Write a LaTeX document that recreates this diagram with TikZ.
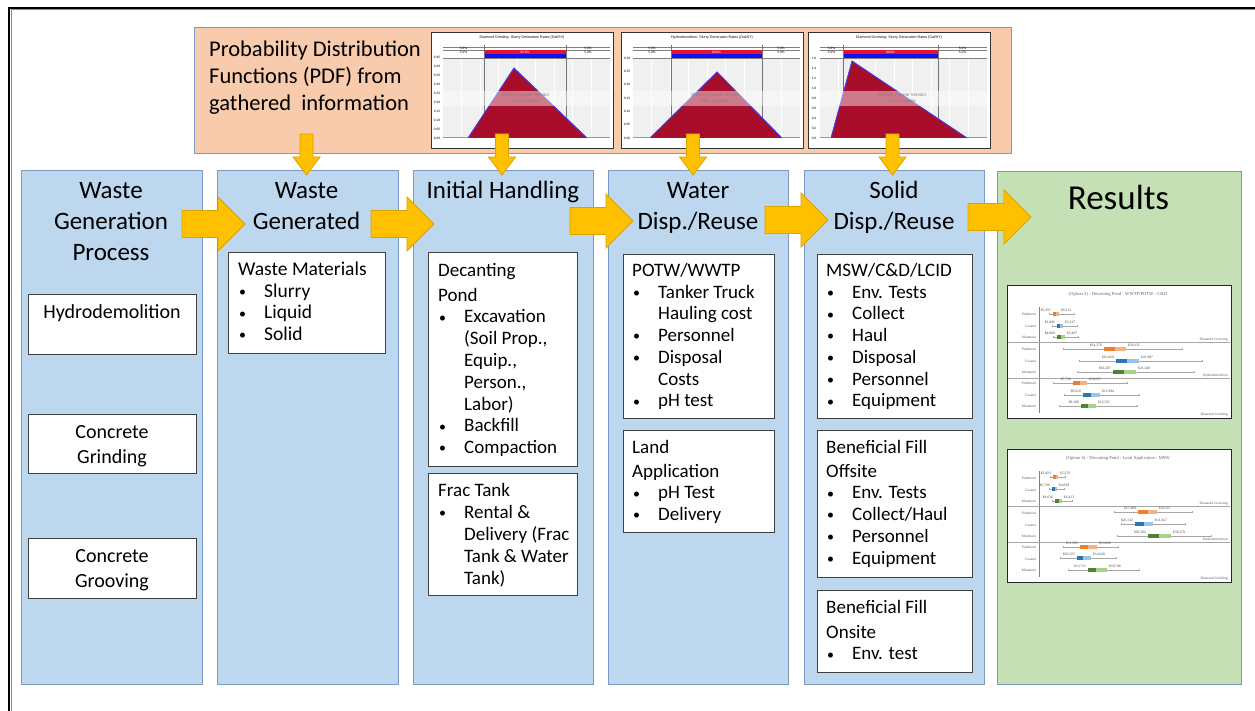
\documentclass[tikz,border=0pt]{standalone}
\usepackage{fontspec}
\setmainfont{Carlito}
\newfontfamily\cfont{Liberation Serif}
\newfontfamily\pfont{Liberation Sans}
\definecolor{colblue}{HTML}{BDD7EE}
\definecolor{colgreen}{HTML}{C5E0B4}
\definecolor{pdforange}{HTML}{F8CBAD}
\definecolor{edgeblue}{HTML}{7A9AC4}
\definecolor{ygold}{HTML}{FFC000}
\definecolor{ygoldedge}{HTML}{D9A400}
\definecolor{boxedge}{HTML}{404040}
\definecolor{trired}{HTML}{A80E2A}
\definecolor{triblue}{HTML}{3C3CF0}
\definecolor{barred}{HTML}{E8102E}
\definecolor{barblue}{HTML}{1010F0}
\definecolor{ord}{HTML}{ED7D31}\definecolor{orl}{HTML}{F4B183}
\definecolor{bld}{HTML}{2E75B6}\definecolor{bll}{HTML}{9DC3E6}
\definecolor{grd}{HTML}{548235}\definecolor{grl}{HTML}{A9D18E}
\newcommand\bitem{\makebox[26pt][l]{\hspace*{1pt}{\fontsize{14}{14}\selectfont\raisebox{0.8pt}{\textbullet}}}}
\newcommand\bcont{\hspace*{26pt}}
\tikzset{
 colbox/.style={draw=edgeblue, fill=colblue, line width=1, anchor=north west, inner sep=0},
 wbox/.style={draw=boxedge, fill=white, line width=1, anchor=north west, inner sep=0},
 ttl/.style={anchor=north, inner sep=0, font=\fontsize{25}{31}\selectfont},
 lst/.style={anchor=north west, inner sep=0, font=\fontsize{19}{21.8}\selectfont},
 yarr/.style={fill=ygold, draw=ygoldedge, line width=0.8, line join=miter},
 ptiny/.style={inner sep=0, font=\pfont\fontsize{3.2}{3.6}\selectfont},
 rlab/.style={inner sep=0, font=\cfont\fontsize{3.6}{4}\selectfont, text=black!65},
 vlab/.style={inner sep=0, font=\cfont\fontsize{3.6}{4}\selectfont, text=black!75},
}
% right block arrow: start x, centre y
\newcommand\rarr[2]{\draw[yarr] (#1,#2-13.5) -- (#1+36,#2-13.5) -- (#1+36,#2-27) -- (#1+63,#2) -- (#1+36,#2+27) -- (#1+36,#2+13.5) -- (#1,#2+13.5) -- cycle;}
% down block arrow: centre x
\newcommand\darr[1]{\draw[yarr] (#1-6.5,134) -- (#1+6.5,134) -- (#1+6.5,157) -- (#1+13.5,157) -- (#1,175) -- (#1-13.5,157) -- (#1-6.5,157) -- cycle;}
% PDF chart
\newcommand\pdfchart[9]{%
 \node[draw=black!80, line width=1.2, fill=white, minimum width=182, minimum height=116, anchor=north west, inner sep=0] (#9) at (#1,32) {};
 \fill[black!6] (#1+12,58) rectangle (#1+179,138);
 \foreach \gx in {1,...,8} \draw[white, line width=0.6] (#1+12+\gx*18.5,58) -- (#1+12+\gx*18.5,138);
 \draw[black!50, line width=0.5] (#1+12,47) -- (#1+179,47) (#1+12,50) -- (#1+179,50) (#1+12,58) -- (#1+179,58);
 \fill[barred] (#7,50) rectangle (#8,54);
 \fill[barblue] (#7,54) rectangle (#8,58);
 \draw[black!55, line width=0.9] (#7,45) -- (#7,138) (#8,45) -- (#8,138);
 \fill[trired] (#3,138) -- (#4,#5) -- (#6,138) -- cycle;
 \draw[triblue, line width=0.9] (#3,138) -- (#4,#5) -- (#6,138);
 \draw[blue!45, line width=1] (#1+12,138) -- (#3,138) (#6,138) -- (#1+179,138);
 \fill[white, opacity=0.45] (#1+12,91) rectangle (#1+179,106);
 \node[ptiny, font=\pfont\fontsize{4.6}{5}\selectfont, text=black!50] (#9w1) at (#1+94,95.5) {@RISK Course Version};
 \node[ptiny, font=\pfont\fontsize{4.2}{5}\selectfont, text=black!50] (#9w2) at (#1+94,101.5) {UNC Charlotte};
 \node[ptiny, font=\pfont\fontsize{3.6}{4}\selectfont] (#9t) at (#1+91,37.5) {#2};
 \node[ptiny, text=white] (#9p) at ({(#7+#8)/2},52) {90.0\%};
 \node[ptiny] (#9l1) at ({(#1+12+#7)/2},48.7) {5.0\%};
 \node[ptiny] (#9l2) at ({(#1+12+#7)/2},52.5) {5.0\%};
 \node[ptiny] (#9r1) at ({(#1+179+#8)/2},48.7) {5.0\%};
 \node[ptiny] (#9r2) at ({(#1+179+#8)/2},52.5) {5.0\%};
}
% result chart
\newcommand\reschart[3]{%
 \node[draw=black!85, line width=1.2, fill=white, minimum width=224, minimum height=133, anchor=north west, inner sep=0] (#3) at (1007,#1) {};
 \node[inner sep=0, font=\cfont\fontsize{4.6}{5}\selectfont, text=black!60] (#3t) at (1118,#1+9) {#2};
 \draw[black!50, line width=0.6] (1039,#1+22) -- (1039,#1+128);
 \draw[black!35, line width=0.8] (1008,#1+57) -- (1230,#1+57) (1008,#1+93) -- (1230,#1+93);
 \foreach \ry/\rl in {29/Piedmont,41/Coastal,52/Mountain,64/Piedmont,76/Coastal,87/Mountain,98/Piedmont,110/Coastal,121/Mountain}
   \node[rlab, anchor=east] at (1036,#1+\ry) {\rl};
 \node[rlab, anchor=south east] (#3g1) at (1228,#1+56.5) {Diamond Grooving};
 \node[rlab, anchor=south east] (#3g2) at (1228,#1+92.5) {Hydrodemolition};
 \node[rlab, anchor=south east] (#3g3) at (1228,#1+131) {Diamond Grinding};
}
\newcommand\brow[9]{%
 \draw[black!35, line width=0.5] (#2,#1) -- (#3,#1) (#2,#1-1.2) -- (#2,#1+1.2) (#3,#1-1.2) -- (#3,#1+1.2);
 \fill[#7d] (#4,#1-2.2) rectangle (#5,#1+2.2);
 \fill[#7l] (#5,#1-2.2) rectangle (#6,#1+2.2);
 \node[vlab, anchor=south east] at (#4-2,#1-2) {#8};
 \node[vlab, anchor=south west] at (#6+2,#1-2) {#9};
}
\begin{document}
\begin{tikzpicture}[x=1pt, y=-1pt]
\useasboundingbox (0,0) rectangle (1255,711);
\fill[white] (0,0) rectangle (1255,711);
% outer frame
\draw[black, line width=2.2] (9,711) -- (9,7.8) -- (1255,7.8);
\draw[black!45, line width=1] (11.2,711) -- (11.2,10) -- (1255,10);

% PDF box
\node[draw=edgeblue, fill=pdforange, line width=1, anchor=north west, inner sep=0, minimum width=817, minimum height=126] (pdf) at (194,27) {};
\node[anchor=north west, inner sep=0, font=\fontsize{22.5}{27.3}\selectfont] (pdftxt) at (209,56-19.1)
 {\begin{tabular}{@{}l@{}}Probability Distribution\\Functions (PDF) from\\gathered\ \ information\end{tabular}};

\pdfchart{431}{Diamond Grinding: Slurry Generation Rates (Gal/SY)}{468}{514}{68}{587}{484}{566}{chA}
\pdfchart{621}{Hydrodemolition: Slurry Generation Rates (Gal/SY)}{650}{717}{72}{782}{671}{762}{chB}
\pdfchart{808}{Diamond Grooving: Slurry Generation Rates (Gal/SY)}{831}{852}{61}{967}{843}{938}{chC}
\foreach \tv [count=\i from 0] in {0.00,0.05,0.10,0.15,0.20,0.25,0.30,0.35,0.40,0.45}
  \node[ptiny] at (437,138-\i*8.9) {\tv};
\foreach \tv [count=\i from 0] in {0.00,0.05,0.10,0.15,0.20,0.25,0.30}
  \node[ptiny] at (627,138-\i*13.3) {\tv};
\foreach \tv [count=\i from 0] in {0.0,0.2,0.4,0.6,0.8,1.0,1.2,1.4,1.6}
  \node[ptiny] at (814,138-\i*10) {\tv};

% columns
\node[colbox, minimum width=181, minimum height=514] (c1) at (21,170) {};
\node[colbox, minimum width=181, minimum height=514] (c2) at (217,170) {};
\node[colbox, minimum width=180, minimum height=514] (c3) at (413,170) {};
\node[colbox, minimum width=180, minimum height=514] (c4) at (608,170) {};
\node[colbox, minimum width=180, minimum height=514] (c5) at (804,170) {};
\node[colbox, fill=colgreen, minimum width=244, minimum height=513] (c6) at (997,171) {};

% titles
\node[ttl] (t1) at (111,198-21.7) {\begin{tabular}{@{}c@{}}Waste\\Generation\\Process\end{tabular}};
\node[ttl] (t2) at (306.5,198-21.7) {\begin{tabular}{@{}c@{}}Waste\\Generated\end{tabular}};
\node[ttl] (t3) at (503,198-21.7) {\begin{tabular}{@{}c@{}}Initial Handling\end{tabular}};
\node[ttl] (t4) at (698,198-21.7) {\begin{tabular}{@{}c@{}}Water\\Disp./Reuse\end{tabular}};
\node[ttl] (t5) at (894,198-21.7) {\begin{tabular}{@{}c@{}}Solid\\Disp./Reuse\end{tabular}};
\node[anchor=base, inner sep=0, font=\fontsize{35}{40}\selectfont] (t6) at (1118.5,210) {Results};

% column 1 boxes
\node[wbox, minimum width=168, minimum height=60] (hyd) at (28,294) {};
\node[wbox, minimum width=168, minimum height=59] (grind) at (28,414) {};
\node[wbox, minimum width=168, minimum height=60] (groove) at (28,538) {};
\node[anchor=base, inner sep=0, font=\fontsize{20}{25}\selectfont] (hydt) at (112,318) {Hydrodemolition};
\node[anchor=north, inner sep=0, font=\fontsize{20}{25}\selectfont] (grindt) at (112,438-17.5) {\begin{tabular}{@{}c@{}}Concrete\\Grinding\end{tabular}};
\node[anchor=north, inner sep=0, font=\fontsize{20}{25}\selectfont] (groovet) at (112,562-17.5) {\begin{tabular}{@{}c@{}}Concrete\\Grooving\end{tabular}};

% column 2
\node[wbox, minimum width=157, minimum height=101] (wm) at (228,252) {};
\node[lst, font=\fontsize{19.5}{21.8}\selectfont] (wmt) at (238,275-15.26) {\begin{tabular}{@{}l@{}}Waste Materials\\\bitem Slurry\\\bitem Liquid\\\bitem Solid\end{tabular}};

% column 3
\node[wbox, minimum width=149, minimum height=214] (dp) at (428,252) {};
\node[lst] (dpt) at (438,276-15.26) {\begin{tabular}{@{}l@{}}Decanting\\[3pt]Pond\\\bitem Excavation\\\bcont(Soil Prop.,\\\bcont Equip.,\\\bcont Person.,\\\bcont Labor)\\\bitem Backfill\\\bitem Compaction\end{tabular}};
\node[wbox, minimum width=149, minimum height=122] (ft) at (428,473) {};
\node[lst] (ftt) at (438,496.7-15.26) {\begin{tabular}{@{}l@{}}Frac Tank\\\bitem Rental \&\\\bcont Delivery (Frac\\\bcont Tank \& Water\\\bcont Tank)\end{tabular}};

% column 4
\node[wbox, minimum width=151, minimum height=164] (potw) at (623,254) {};
\node[lst] (potwt) at (632,276-15.26) {\begin{tabular}{@{}l@{}}POTW/WWTP\\\bitem Tanker Truck\\\bcont Hauling cost\\\bitem Personnel\\\bitem Disposal\\\bcont Costs\\\bitem pH test\end{tabular}};
\node[wbox, minimum width=151, minimum height=102] (land) at (623,430) {};
\node[lst] (landt) at (632,453-15.26) {\begin{tabular}{@{}l@{}}Land\\[2pt]Application\\\bitem pH Test\\\bitem Delivery\end{tabular}};

% column 5
\node[wbox, minimum width=155, minimum height=164] (msw) at (817,254) {};
\node[lst] (mswt) at (826,276-15.26) {\begin{tabular}{@{}l@{}}MSW/C\&D/LCID\\\bitem Env. Tests\\\bitem Collect\\\bitem Haul\\\bitem Disposal\\\bitem Personnel\\\bitem Equipment\end{tabular}};
\node[wbox, minimum width=155, minimum height=147] (off) at (817,430) {};
\node[lst] (offt) at (826,453-15.26) {\begin{tabular}{@{}l@{}}Beneficial Fill\\[2pt]Offsite\\\bitem Env. Tests\\\bitem Collect/Haul\\\bitem Personnel\\\bitem Equipment\end{tabular}};
\node[wbox, minimum width=155, minimum height=82] (on) at (817,590) {};
\node[lst] (ont) at (826,613-15.26) {\begin{tabular}{@{}l@{}}Beneficial Fill\\[3pt]Onsite\\\bitem Env. test\end{tabular}};

% results charts
\reschart{285}{(Option 2) - Decanting Pond - WWTP/POTW - C\&D}{rA}
\brow{314}{1049}{1074}{1053}{1056}{1059}{or}{\$5,297}{\$6,313}
\brow{326}{1052}{1077}{1057}{1060}{1063}{bl}{\$3,890}{\$5,227}
\brow{337}{1053}{1078}{1057}{1061}{1065}{gr}{\$4,080}{\$5,497}
\brow{349}{1063}{1182}{1104}{1115}{1126}{or}{\$14,276}{\$20,135}
\brow{361}{1079}{1202}{1116}{1127}{1139}{bl}{\$16,828}{\$21,987}
\brow{372}{1077}{1194}{1113}{1124}{1136}{gr}{\$16,207}{\$21,240}
\brow{383}{1053}{1127}{1073}{1080}{1087}{or}{\$7,736}{\$10,637}
\brow{395}{1064}{1139}{1083}{1091}{1100}{bl}{\$9,618}{\$13,394}
\brow{406}{1059}{1137}{1081}{1088}{1096}{gr}{\$9,188}{\$12,535}

\reschart{449}{(Option 6) - Decanting Pond - Land Application - MSW}{rB}
\brow{477}{1050}{1065}{1053}{1055.5}{1058}{or}{\$3,923}{\$5,276}
\brow{489}{1049}{1064}{1052}{1054.5}{1057}{bl}{\$3,700}{\$4,939}
\brow{501}{1052}{1072}{1055}{1058.5}{1062}{gr}{\$4,630}{\$6,413}
\brow{512}{1114}{1192}{1138}{1148}{1157}{or}{\$27,499}{\$32,567}
\brow{524}{1121}{1185}{1135}{1144}{1153}{bl}{\$26,742}{\$31,457}
\brow{536}{1117}{1211}{1148}{1159}{1171}{gr}{\$30,284}{\$36,279}
\brow{547}{1063}{1118}{1080}{1088}{1097}{or}{\$11,393}{\$13,826}
\brow{558}{1060}{1116}{1077}{1083}{1091}{bl}{\$10,325}{\$14,628}
\brow{570}{1068}{1139}{1088}{1096}{1107}{gr}{\$13,711}{\$18,746}

% arrows
\rarr{182}{224}
\rarr{371}{224}
\rarr{570}{221}
\rarr{765}{220}
\rarr{968}{217}
\darr{306.5}
\darr{502}
\darr{693}
\darr{892.5}
\end{tikzpicture}
\end{document}
